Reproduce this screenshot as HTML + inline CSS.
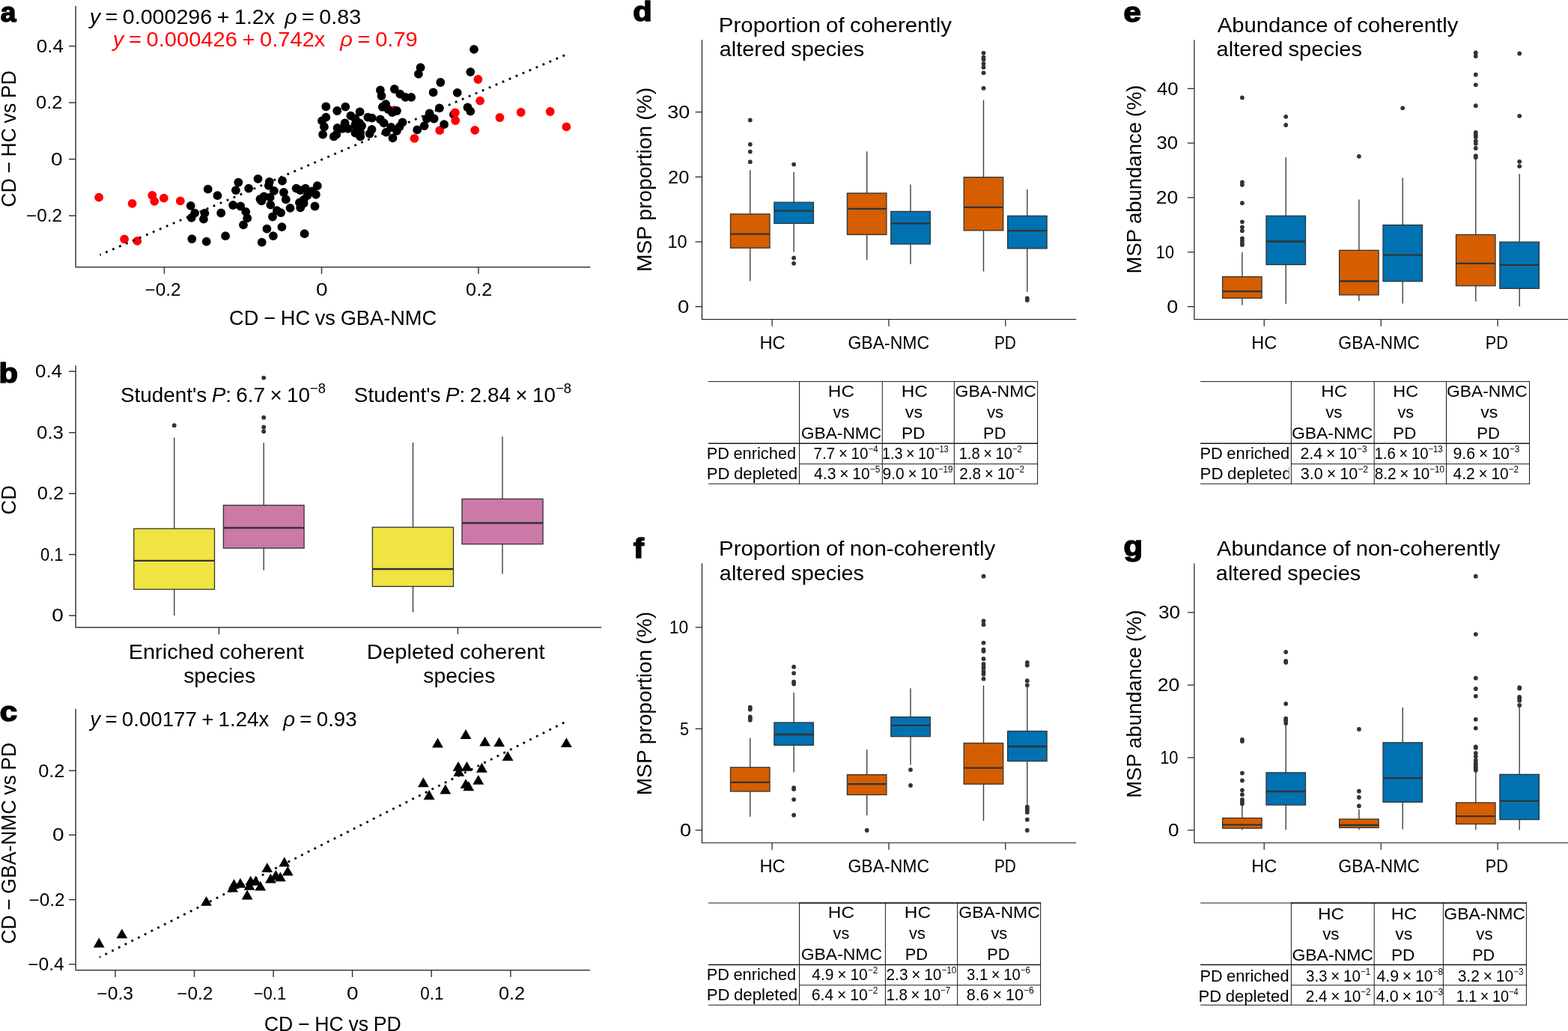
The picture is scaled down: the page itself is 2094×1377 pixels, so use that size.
<!DOCTYPE html>
<html lang="en"><head><meta charset="utf-8"><title>Figure</title>
<style>
html,body{margin:0;padding:0;background:#fff;}
body{width:2094px;height:1377px;overflow:hidden;}
svg{display:block;font-family:"Liberation Sans", sans-serif;}
text{white-space:pre;font-kerning:none;}
</style></head><body>
<svg width="2094" height="1377" viewBox="0 0 2094 1377">
<rect width="2094" height="1377" fill="#fff"/>
<g id="panel-a">
<text x="0.7" y="29.0" font-size="37" textLength="20.6" lengthAdjust="spacingAndGlyphs" font-weight="bold" stroke="#000" stroke-width="1.6" stroke-linejoin="round">a</text>
<path d="M101.1 8.0L101.1 356.8L788.2 356.8" fill="none" stroke="#3a3a3a" stroke-width="1.5" stroke-linejoin="round"/>
<line x1="92.0" y1="61.6" x2="101.1" y2="61.6" stroke="#3a3a3a" stroke-width="1.5"/>
<text x="48.89" y="69.80" font-size="23.2" textLength="36.07" lengthAdjust="spacingAndGlyphs">0.4</text>
<line x1="92.0" y1="137.1" x2="101.1" y2="137.1" stroke="#3a3a3a" stroke-width="1.5"/>
<text x="48.11" y="145.30" font-size="23.2" textLength="35.27" lengthAdjust="spacingAndGlyphs">0.2</text>
<line x1="92.0" y1="212.6" x2="101.1" y2="212.6" stroke="#3a3a3a" stroke-width="1.5"/>
<text x="68.01" y="220.80" font-size="23.2" textLength="15.59" lengthAdjust="spacingAndGlyphs">0</text>
<line x1="92.0" y1="288.1" x2="101.1" y2="288.1" stroke="#3a3a3a" stroke-width="1.5"/>
<text x="35.10" y="296.30" font-size="23.2" textLength="47.92" lengthAdjust="spacingAndGlyphs">−0.2</text>
<line x1="219.4" y1="356.8" x2="219.4" y2="365.8" stroke="#3a3a3a" stroke-width="1.5"/>
<text x="193.50" y="395.30" font-size="23.2" textLength="48.02" lengthAdjust="spacingAndGlyphs">−0.2</text>
<line x1="429.5" y1="356.8" x2="429.5" y2="365.8" stroke="#3a3a3a" stroke-width="1.5"/>
<text x="422.01" y="395.30" font-size="23.2" textLength="15.59" lengthAdjust="spacingAndGlyphs">0</text>
<line x1="639.0" y1="356.8" x2="639.0" y2="365.8" stroke="#3a3a3a" stroke-width="1.5"/>
<text x="622.12" y="395.30" font-size="23.2" textLength="35.05" lengthAdjust="spacingAndGlyphs">0.2</text>
<text x="306.12" y="433.50" font-size="27.8" textLength="277.02" lengthAdjust="spacingAndGlyphs" word-spacing="-0.83">CD − HC vs GBA-NMC</text>
<text x="21.20" y="276.65" font-size="27.8" textLength="182.43" lengthAdjust="spacingAndGlyphs" transform="rotate(-90 21.20 276.65)" word-spacing="-0.83">CD − HC vs PD</text>
<text x="119.72" y="31.80" font-size="27.8" textLength="362.34" lengthAdjust="spacingAndGlyphs" word-spacing="-1.39"><tspan font-style="italic">y</tspan> = 0.000296 + 1.2x  <tspan font-style="italic">ρ</tspan> = 0.83</text>
<text x="150.75" y="61.80" font-size="27.8" textLength="407.03" lengthAdjust="spacingAndGlyphs" word-spacing="-1.39" fill="#ff0000"><tspan font-style="italic">y</tspan> = 0.000426 + 0.742x   <tspan font-style="italic">ρ</tspan> = 0.79</text>
<circle cx="605.9" cy="152.8" r="5.9" fill="#000"/>
<circle cx="638.4" cy="106.0" r="5.9" fill="#ff0000"/>
<circle cx="641.1" cy="134.7" r="5.9" fill="#ff0000"/>
<circle cx="607.8" cy="150.3" r="5.9" fill="#ff0000"/>
<circle cx="608.2" cy="161.0" r="5.9" fill="#ff0000"/>
<circle cx="587.2" cy="174.2" r="5.9" fill="#ff0000"/>
<circle cx="553.4" cy="184.9" r="5.9" fill="#ff0000"/>
<circle cx="634.2" cy="173.8" r="5.9" fill="#ff0000"/>
<circle cx="667.4" cy="157.0" r="5.9" fill="#ff0000"/>
<circle cx="695.7" cy="150.0" r="5.9" fill="#ff0000"/>
<circle cx="734.7" cy="149.0" r="5.9" fill="#ff0000"/>
<circle cx="756.4" cy="169.4" r="5.9" fill="#ff0000"/>
<circle cx="526.5" cy="147.1" r="5.9" fill="#ff0000"/>
<circle cx="132.1" cy="263.7" r="5.9" fill="#ff0000"/>
<circle cx="176.6" cy="271.9" r="5.9" fill="#ff0000"/>
<circle cx="203.3" cy="261.0" r="5.9" fill="#ff0000"/>
<circle cx="206.2" cy="268.8" r="5.9" fill="#ff0000"/>
<circle cx="218.8" cy="264.6" r="5.9" fill="#ff0000"/>
<circle cx="240.8" cy="268.4" r="5.9" fill="#ff0000"/>
<circle cx="166.1" cy="319.4" r="5.9" fill="#ff0000"/>
<circle cx="183.3" cy="321.9" r="5.9" fill="#ff0000"/>
<circle cx="633.0" cy="65.9" r="5.9" fill="#000"/>
<circle cx="561.6" cy="90.2" r="5.9" fill="#000"/>
<circle cx="558.9" cy="98.9" r="5.9" fill="#000"/>
<circle cx="628.3" cy="96.1" r="5.9" fill="#000"/>
<circle cx="588.3" cy="110.0" r="5.9" fill="#000"/>
<circle cx="578.6" cy="123.4" r="5.9" fill="#000"/>
<circle cx="610.7" cy="123.8" r="5.9" fill="#000"/>
<circle cx="507.9" cy="120.3" r="5.9" fill="#000"/>
<circle cx="509.5" cy="128.0" r="5.9" fill="#000"/>
<circle cx="526.8" cy="119.0" r="5.9" fill="#000"/>
<circle cx="534.3" cy="125.7" r="5.9" fill="#000"/>
<circle cx="541.4" cy="129.9" r="5.9" fill="#000"/>
<circle cx="549.2" cy="129.9" r="5.9" fill="#000"/>
<circle cx="515.2" cy="139.1" r="5.9" fill="#000"/>
<circle cx="510.8" cy="142.9" r="5.9" fill="#000"/>
<circle cx="518.4" cy="146.1" r="5.9" fill="#000"/>
<circle cx="523.8" cy="150.0" r="5.9" fill="#000"/>
<circle cx="529.9" cy="148.0" r="5.9" fill="#000"/>
<circle cx="435.3" cy="142.3" r="5.9" fill="#000"/>
<circle cx="450.2" cy="148.0" r="5.9" fill="#000"/>
<circle cx="461.3" cy="142.7" r="5.9" fill="#000"/>
<circle cx="480.6" cy="149.4" r="5.9" fill="#000"/>
<circle cx="468.4" cy="154.7" r="5.9" fill="#000"/>
<circle cx="474.5" cy="158.5" r="5.9" fill="#000"/>
<circle cx="491.3" cy="156.6" r="5.9" fill="#000"/>
<circle cx="496.8" cy="157.6" r="5.9" fill="#000"/>
<circle cx="507.9" cy="159.5" r="5.9" fill="#000"/>
<circle cx="512.7" cy="164.3" r="5.9" fill="#000"/>
<circle cx="435.3" cy="156.6" r="5.9" fill="#000"/>
<circle cx="430.0" cy="161.4" r="5.9" fill="#000"/>
<circle cx="432.9" cy="169.4" r="5.9" fill="#000"/>
<circle cx="431.1" cy="179.6" r="5.9" fill="#000"/>
<circle cx="460.6" cy="164.3" r="5.9" fill="#000"/>
<circle cx="450.6" cy="171.0" r="5.9" fill="#000"/>
<circle cx="457.3" cy="171.9" r="5.9" fill="#000"/>
<circle cx="464.9" cy="171.9" r="5.9" fill="#000"/>
<circle cx="474.5" cy="166.2" r="5.9" fill="#000"/>
<circle cx="480.2" cy="164.3" r="5.9" fill="#000"/>
<circle cx="483.1" cy="168.1" r="5.9" fill="#000"/>
<circle cx="476.4" cy="171.9" r="5.9" fill="#000"/>
<circle cx="481.2" cy="176.7" r="5.9" fill="#000"/>
<circle cx="474.5" cy="177.7" r="5.9" fill="#000"/>
<circle cx="481.2" cy="182.4" r="5.9" fill="#000"/>
<circle cx="445.8" cy="182.4" r="5.9" fill="#000"/>
<circle cx="449.3" cy="179.6" r="5.9" fill="#000"/>
<circle cx="496.5" cy="172.9" r="5.9" fill="#000"/>
<circle cx="493.6" cy="178.6" r="5.9" fill="#000"/>
<circle cx="522.3" cy="170.0" r="5.9" fill="#000"/>
<circle cx="515.6" cy="176.7" r="5.9" fill="#000"/>
<circle cx="524.5" cy="184.3" r="5.9" fill="#000"/>
<circle cx="529.9" cy="174.8" r="5.9" fill="#000"/>
<circle cx="533.7" cy="169.1" r="5.9" fill="#000"/>
<circle cx="537.5" cy="163.3" r="5.9" fill="#000"/>
<circle cx="586.8" cy="144.4" r="5.9" fill="#000"/>
<circle cx="573.6" cy="151.3" r="5.9" fill="#000"/>
<circle cx="579.6" cy="158.5" r="5.9" fill="#000"/>
<circle cx="570.0" cy="158.5" r="5.9" fill="#000"/>
<circle cx="566.6" cy="168.1" r="5.9" fill="#000"/>
<circle cx="557.2" cy="173.4" r="5.9" fill="#000"/>
<circle cx="593.1" cy="166.2" r="5.9" fill="#000"/>
<circle cx="624.5" cy="143.3" r="5.9" fill="#000"/>
<circle cx="628.3" cy="148.6" r="5.9" fill="#000"/>
<circle cx="277.7" cy="252.6" r="5.9" fill="#000"/>
<circle cx="290.4" cy="261.2" r="5.9" fill="#000"/>
<circle cx="254.7" cy="274.9" r="5.9" fill="#000"/>
<circle cx="260.1" cy="284.7" r="5.9" fill="#000"/>
<circle cx="255.7" cy="290.8" r="5.9" fill="#000"/>
<circle cx="273.4" cy="284.7" r="5.9" fill="#000"/>
<circle cx="271.9" cy="292.7" r="5.9" fill="#000"/>
<circle cx="295.2" cy="284.5" r="5.9" fill="#000"/>
<circle cx="311.1" cy="274.0" r="5.9" fill="#000"/>
<circle cx="318.3" cy="243.6" r="5.9" fill="#000"/>
<circle cx="314.9" cy="254.1" r="5.9" fill="#000"/>
<circle cx="332.1" cy="251.6" r="5.9" fill="#000"/>
<circle cx="344.5" cy="238.8" r="5.9" fill="#000"/>
<circle cx="359.8" cy="243.0" r="5.9" fill="#000"/>
<circle cx="358.8" cy="247.8" r="5.9" fill="#000"/>
<circle cx="377.0" cy="241.5" r="5.9" fill="#000"/>
<circle cx="365.9" cy="254.9" r="5.9" fill="#000"/>
<circle cx="378.9" cy="257.0" r="5.9" fill="#000"/>
<circle cx="352.5" cy="262.5" r="5.9" fill="#000"/>
<circle cx="347.4" cy="266.0" r="5.9" fill="#000"/>
<circle cx="349.3" cy="268.3" r="5.9" fill="#000"/>
<circle cx="360.7" cy="263.7" r="5.9" fill="#000"/>
<circle cx="381.8" cy="266.3" r="5.9" fill="#000"/>
<circle cx="361.3" cy="273.6" r="5.9" fill="#000"/>
<circle cx="321.2" cy="275.5" r="5.9" fill="#000"/>
<circle cx="328.3" cy="282.8" r="5.9" fill="#000"/>
<circle cx="330.2" cy="291.4" r="5.9" fill="#000"/>
<circle cx="325.0" cy="300.3" r="5.9" fill="#000"/>
<circle cx="369.9" cy="281.2" r="5.9" fill="#000"/>
<circle cx="375.1" cy="284.1" r="5.9" fill="#000"/>
<circle cx="364.0" cy="289.5" r="5.9" fill="#000"/>
<circle cx="387.5" cy="277.8" r="5.9" fill="#000"/>
<circle cx="395.7" cy="251.6" r="5.9" fill="#000"/>
<circle cx="400.9" cy="254.1" r="5.9" fill="#000"/>
<circle cx="407.9" cy="251.6" r="5.9" fill="#000"/>
<circle cx="423.8" cy="248.2" r="5.9" fill="#000"/>
<circle cx="417.1" cy="255.5" r="5.9" fill="#000"/>
<circle cx="421.9" cy="259.8" r="5.9" fill="#000"/>
<circle cx="410.4" cy="261.2" r="5.9" fill="#000"/>
<circle cx="405.6" cy="266.9" r="5.9" fill="#000"/>
<circle cx="399.9" cy="270.7" r="5.9" fill="#000"/>
<circle cx="401.2" cy="277.4" r="5.9" fill="#000"/>
<circle cx="405.6" cy="271.7" r="5.9" fill="#000"/>
<circle cx="420.5" cy="275.5" r="5.9" fill="#000"/>
<circle cx="356.4" cy="305.7" r="5.9" fill="#000"/>
<circle cx="376.4" cy="303.2" r="5.9" fill="#000"/>
<circle cx="364.9" cy="315.1" r="5.9" fill="#000"/>
<circle cx="406.6" cy="312.2" r="5.9" fill="#000"/>
<circle cx="349.7" cy="323.6" r="5.9" fill="#000"/>
<circle cx="301.1" cy="315.2" r="5.9" fill="#000"/>
<circle cx="256.3" cy="319.1" r="5.9" fill="#000"/>
<circle cx="275.7" cy="322.7" r="5.9" fill="#000"/>
<line x1="133.39" y1="340.40" x2="755.50" y2="73.20" stroke="#000" stroke-width="2.8" stroke-dasharray="2.8 6.97" stroke-dashoffset="1.4"/>
</g>
<g id="panel-b">
<text x="-1.5" y="510.7" font-size="37" textLength="25.5" lengthAdjust="spacingAndGlyphs" font-weight="bold" stroke="#000" stroke-width="1.6" stroke-linejoin="round">b</text>
<path d="M101.1 488.3L101.1 838.0L803.2 838.0" fill="none" stroke="#3a3a3a" stroke-width="1.5" stroke-linejoin="round"/>
<line x1="92.0" y1="496.0" x2="101.1" y2="496.0" stroke="#3a3a3a" stroke-width="1.5"/>
<text x="46.99" y="504.20" font-size="23.2" textLength="36.07" lengthAdjust="spacingAndGlyphs">0.4</text>
<line x1="92.0" y1="577.8" x2="101.1" y2="577.8" stroke="#3a3a3a" stroke-width="1.5"/>
<text x="49.09" y="586.00" font-size="23.2" textLength="35.84" lengthAdjust="spacingAndGlyphs">0.3</text>
<line x1="92.0" y1="659.2" x2="101.1" y2="659.2" stroke="#3a3a3a" stroke-width="1.5"/>
<text x="49.81" y="667.40" font-size="23.2" textLength="35.27" lengthAdjust="spacingAndGlyphs">0.2</text>
<line x1="92.0" y1="740.6" x2="101.1" y2="740.6" stroke="#3a3a3a" stroke-width="1.5"/>
<text x="53.94" y="748.80" font-size="23.2" textLength="30.53" lengthAdjust="spacingAndGlyphs">0.1</text>
<line x1="92.0" y1="822.2" x2="101.1" y2="822.2" stroke="#3a3a3a" stroke-width="1.5"/>
<text x="69.31" y="830.40" font-size="23.2" textLength="15.59" lengthAdjust="spacingAndGlyphs">0</text>
<line x1="292.4" y1="838.0" x2="292.4" y2="847.2" stroke="#3a3a3a" stroke-width="1.5"/>
<line x1="611.4" y1="838.0" x2="611.4" y2="847.2" stroke="#3a3a3a" stroke-width="1.5"/>
<text x="21.20" y="687.48" font-size="27.8" textLength="39.28" lengthAdjust="spacingAndGlyphs" transform="rotate(-90 21.20 687.48)">CD</text>
<line x1="232.7" y1="584.6" x2="232.7" y2="706.1" stroke="#383838" stroke-width="1.35" />
<line x1="232.7" y1="787.1" x2="232.7" y2="821.9" stroke="#383838" stroke-width="1.35" />
<rect x="178.8" y="706.1" width="107.7" height="81.0" fill="#F0E442" stroke="#333333" stroke-width="1.3"/>
<line x1="178.8" y1="748.9" x2="286.5" y2="748.9" stroke="#333333" stroke-width="2.3" />
<circle cx="232.7" cy="568.2" r="2.9" fill="#333"/>
<line x1="352.2" y1="591.5" x2="352.2" y2="674.8" stroke="#383838" stroke-width="1.35" />
<line x1="352.2" y1="732.1" x2="352.2" y2="761.5" stroke="#383838" stroke-width="1.35" />
<rect x="298.4" y="674.8" width="107.7" height="57.3" fill="#CC79A7" stroke="#333333" stroke-width="1.3"/>
<line x1="298.4" y1="705.0" x2="406.1" y2="705.0" stroke="#333333" stroke-width="2.3" />
<circle cx="352.2" cy="504.6" r="2.9" fill="#333"/>
<circle cx="352.2" cy="557.7" r="2.9" fill="#333"/>
<circle cx="352.2" cy="570.5" r="2.9" fill="#333"/>
<circle cx="352.2" cy="576.2" r="2.9" fill="#333"/>
<line x1="551.5" y1="591.1" x2="551.5" y2="704.2" stroke="#383838" stroke-width="1.35" />
<line x1="551.5" y1="783.3" x2="551.5" y2="817.7" stroke="#383838" stroke-width="1.35" />
<rect x="497.4" y="704.2" width="108.1" height="79.1" fill="#F0E442" stroke="#333333" stroke-width="1.3"/>
<line x1="497.4" y1="760.0" x2="605.5" y2="760.0" stroke="#333333" stroke-width="2.3" />
<line x1="671.0" y1="583.1" x2="671.0" y2="666.4" stroke="#383838" stroke-width="1.35" />
<line x1="671.0" y1="726.7" x2="671.0" y2="766.5" stroke="#383838" stroke-width="1.35" />
<rect x="617.0" y="666.4" width="108.1" height="60.3" fill="#CC79A7" stroke="#333333" stroke-width="1.3"/>
<line x1="617.0" y1="698.5" x2="725.1" y2="698.5" stroke="#333333" stroke-width="2.3" />
<text x="160.93" y="537.00" font-size="27.8" textLength="274.07" lengthAdjust="spacingAndGlyphs" word-spacing="-1.39">Student's <tspan font-style="italic">P</tspan>: 6.7 × 10<tspan dy="-11.9" font-size="18.3">−8</tspan></text>
<text x="472.83" y="537.00" font-size="27.8" textLength="290.27" lengthAdjust="spacingAndGlyphs" word-spacing="-1.39">Student's <tspan font-style="italic">P</tspan>: 2.84 × 10<tspan dy="-11.9" font-size="18.3">−8</tspan></text>
<text x="171.73" y="880.00" font-size="27.8" textLength="233.99" lengthAdjust="spacingAndGlyphs" word-spacing="-0.83">Enriched coherent</text>
<text x="245.21" y="911.80" font-size="27.8" textLength="96.01" lengthAdjust="spacingAndGlyphs">species</text>
<text x="489.80" y="880.00" font-size="27.8" textLength="237.91" lengthAdjust="spacingAndGlyphs" word-spacing="-0.83">Depleted coherent</text>
<text x="565.21" y="911.80" font-size="27.8" textLength="96.11" lengthAdjust="spacingAndGlyphs">species</text>
</g>
<g id="panel-c">
<text x="-0.3" y="963.0" font-size="37" textLength="23.3" lengthAdjust="spacingAndGlyphs" font-weight="bold" stroke="#000" stroke-width="1.6" stroke-linejoin="round">c</text>
<path d="M101.1 946.7L101.1 1295.7L788.1 1295.7" fill="none" stroke="#3a3a3a" stroke-width="1.5" stroke-linejoin="round"/>
<line x1="92.0" y1="1029.3" x2="101.1" y2="1029.3" stroke="#3a3a3a" stroke-width="1.5"/>
<text x="51.21" y="1037.50" font-size="23.2" textLength="35.27" lengthAdjust="spacingAndGlyphs">0.2</text>
<line x1="92.0" y1="1115.2" x2="101.1" y2="1115.2" stroke="#3a3a3a" stroke-width="1.5"/>
<text x="70.01" y="1123.40" font-size="23.2" textLength="15.59" lengthAdjust="spacingAndGlyphs">0</text>
<line x1="92.0" y1="1201.6" x2="101.1" y2="1201.6" stroke="#3a3a3a" stroke-width="1.5"/>
<text x="38.50" y="1209.80" font-size="23.2" textLength="47.92" lengthAdjust="spacingAndGlyphs">−0.2</text>
<line x1="92.0" y1="1287.9" x2="101.1" y2="1287.9" stroke="#3a3a3a" stroke-width="1.5"/>
<text x="37.19" y="1296.10" font-size="23.2" textLength="48.53" lengthAdjust="spacingAndGlyphs">−0.4</text>
<line x1="154.0" y1="1295.7" x2="154.0" y2="1305.0" stroke="#3a3a3a" stroke-width="1.5"/>
<text x="129.38" y="1335.00" font-size="23.2" textLength="48.70" lengthAdjust="spacingAndGlyphs">−0.3</text>
<line x1="259.5" y1="1295.7" x2="259.5" y2="1305.0" stroke="#3a3a3a" stroke-width="1.5"/>
<text x="236.30" y="1335.00" font-size="23.2" textLength="48.02" lengthAdjust="spacingAndGlyphs">−0.2</text>
<line x1="365.1" y1="1295.7" x2="365.1" y2="1305.0" stroke="#3a3a3a" stroke-width="1.5"/>
<text x="338.71" y="1335.00" font-size="23.2" textLength="43.46" lengthAdjust="spacingAndGlyphs">−0.1</text>
<line x1="470.6" y1="1295.7" x2="470.6" y2="1305.0" stroke="#3a3a3a" stroke-width="1.5"/>
<text x="463.01" y="1335.00" font-size="23.2" textLength="15.59" lengthAdjust="spacingAndGlyphs">0</text>
<line x1="576.2" y1="1295.7" x2="576.2" y2="1305.0" stroke="#3a3a3a" stroke-width="1.5"/>
<text x="561.22" y="1335.00" font-size="23.2" textLength="31.17" lengthAdjust="spacingAndGlyphs">0.1</text>
<line x1="681.9" y1="1295.7" x2="681.9" y2="1305.0" stroke="#3a3a3a" stroke-width="1.5"/>
<text x="665.91" y="1335.00" font-size="23.2" textLength="35.27" lengthAdjust="spacingAndGlyphs">0.2</text>
<text x="352.74" y="1376.60" font-size="27.8" textLength="183.14" lengthAdjust="spacingAndGlyphs" word-spacing="-0.83">CD − HC vs PD</text>
<text x="21.30" y="1260.65" font-size="27.8" textLength="268.82" lengthAdjust="spacingAndGlyphs" transform="rotate(-90 21.30 1260.65)" word-spacing="-0.83">CD − GBA-NMC vs PD</text>
<text x="120.27" y="970.20" font-size="27.8" textLength="356.35" lengthAdjust="spacingAndGlyphs" word-spacing="-1.39"><tspan font-style="italic">y</tspan> = 0.00177 + 1.24x   <tspan font-style="italic">ρ</tspan> = 0.93</text>
<path d="M124.8 1265.5L139.6 1265.5L132.2 1252.6Z" fill="#000"/>
<path d="M155.4 1253.3L170.2 1253.3L162.8 1240.4Z" fill="#000"/>
<path d="M268.1 1209.8L282.9 1209.8L275.5 1196.9Z" fill="#000"/>
<path d="M303.2 1191.4L318.0 1191.4L310.6 1178.5Z" fill="#000"/>
<path d="M305.1 1186.8L319.9 1186.8L312.5 1173.9Z" fill="#000"/>
<path d="M313.5 1185.7L328.3 1185.7L320.9 1172.8Z" fill="#000"/>
<path d="M322.7 1201.4L337.5 1201.4L330.1 1188.5Z" fill="#000"/>
<path d="M327.3 1182.6L342.1 1182.6L334.7 1169.7Z" fill="#000"/>
<path d="M325.7 1188.7L340.5 1188.7L333.1 1175.8Z" fill="#000"/>
<path d="M334.1 1182.6L348.9 1182.6L341.5 1169.7Z" fill="#000"/>
<path d="M340.3 1189.5L355.1 1189.5L347.7 1176.6Z" fill="#000"/>
<path d="M349.4 1165.1L364.2 1165.1L356.8 1152.2Z" fill="#000"/>
<path d="M354.0 1179.6L368.8 1179.6L361.4 1166.7Z" fill="#000"/>
<path d="M360.9 1175.0L375.7 1175.0L368.3 1162.1Z" fill="#000"/>
<path d="M367.0 1177.3L381.8 1177.3L374.4 1164.4Z" fill="#000"/>
<path d="M372.4 1157.4L387.2 1157.4L379.8 1144.5Z" fill="#000"/>
<path d="M376.9 1169.6L391.7 1169.6L384.3 1156.7Z" fill="#000"/>
<path d="M558.0 1051.2L572.8 1051.2L565.4 1038.3Z" fill="#000"/>
<path d="M565.7 1068.0L580.5 1068.0L573.1 1055.1Z" fill="#000"/>
<path d="M577.1 998.5L591.9 998.5L584.5 985.6Z" fill="#000"/>
<path d="M587.4 1060.4L602.2 1060.4L594.8 1047.5Z" fill="#000"/>
<path d="M604.6 1029.8L619.4 1029.8L612.0 1016.9Z" fill="#000"/>
<path d="M605.4 1036.7L620.2 1036.7L612.8 1023.8Z" fill="#000"/>
<path d="M614.6 987.0L629.4 987.0L622.0 974.1Z" fill="#000"/>
<path d="M616.1 1029.8L630.9 1029.8L623.5 1016.9Z" fill="#000"/>
<path d="M614.6 1053.1L629.4 1053.1L622.0 1040.2Z" fill="#000"/>
<path d="M618.4 1056.2L633.2 1056.2L625.8 1043.3Z" fill="#000"/>
<path d="M631.4 1047.8L646.2 1047.8L638.8 1034.9Z" fill="#000"/>
<path d="M636.0 1031.7L650.8 1031.7L643.4 1018.8Z" fill="#000"/>
<path d="M640.2 996.6L655.0 996.6L647.6 983.7Z" fill="#000"/>
<path d="M659.3 997.3L674.1 997.3L666.7 984.4Z" fill="#000"/>
<path d="M670.7 1016.1L685.5 1016.1L678.1 1003.2Z" fill="#000"/>
<path d="M749.0 998.1L763.8 998.1L756.4 985.2Z" fill="#000"/>
<line x1="133.05" y1="1278.47" x2="754.50" y2="964.40" stroke="#000" stroke-width="2.8" stroke-dasharray="2.8 6.97" stroke-dashoffset="1.4"/>
</g>
<g id="panel-d">
<text x="845.2" y="27.8" font-size="37" textLength="25.5" lengthAdjust="spacingAndGlyphs" font-weight="bold" stroke="#000" stroke-width="1.6" stroke-linejoin="round">d</text>
<path d="M937.48 53.29L937.48 426.49L1437.20 426.49" fill="none" stroke="#111" stroke-width="1.15" stroke-linejoin="round"/>
<line x1="928.58" y1="149.67" x2="937.48" y2="149.67" stroke="#111" stroke-width="1.15"/>
<text x="891.37" y="157.87" font-size="23.2" textLength="29.98" lengthAdjust="spacingAndGlyphs">30</text>
<line x1="928.58" y1="236.30" x2="937.48" y2="236.30" stroke="#111" stroke-width="1.15"/>
<text x="892.02" y="244.50" font-size="23.2" textLength="28.38" lengthAdjust="spacingAndGlyphs">20</text>
<line x1="928.58" y1="322.94" x2="937.48" y2="322.94" stroke="#111" stroke-width="1.15"/>
<text x="891.50" y="331.14" font-size="23.2" textLength="26.22" lengthAdjust="spacingAndGlyphs">10</text>
<line x1="928.58" y1="409.58" x2="937.48" y2="409.58" stroke="#111" stroke-width="1.15"/>
<text x="904.92" y="417.78" font-size="23.2" textLength="15.36" lengthAdjust="spacingAndGlyphs">0</text>
<line x1="1031.10" y1="426.49" x2="1031.10" y2="435.69" stroke="#111" stroke-width="1.15"/>
<text x="1014.45" y="465.79" font-size="23.2" textLength="34.36" lengthAdjust="spacingAndGlyphs">HC</text>
<line x1="1187.00" y1="426.49" x2="1187.00" y2="435.69" stroke="#111" stroke-width="1.15"/>
<text x="1132.44" y="465.79" font-size="23.2" textLength="108.63" lengthAdjust="spacingAndGlyphs">GBA-NMC</text>
<line x1="1342.80" y1="426.49" x2="1342.80" y2="435.69" stroke="#111" stroke-width="1.15"/>
<text x="1327.89" y="465.79" font-size="23.2" textLength="28.90" lengthAdjust="spacingAndGlyphs">PD</text>
<text x="870.00" y="362.91" font-size="27.8" textLength="245.96" lengthAdjust="spacingAndGlyphs" transform="rotate(-90 870.00 362.91)" word-spacing="-0.83">MSP proportion (%)</text>
<text x="959.88" y="42.80" font-size="27.8" textLength="311.07" lengthAdjust="spacingAndGlyphs" word-spacing="-0.83">Proportion of coherently</text>
<text x="960.77" y="74.50" font-size="27.8" textLength="193.47" lengthAdjust="spacingAndGlyphs" word-spacing="-0.83">altered species</text>
<line x1="1001.8" y1="227.3" x2="1001.8" y2="285.9" stroke="#383838" stroke-width="1.35" />
<line x1="1001.8" y1="331.2" x2="1001.8" y2="375.5" stroke="#383838" stroke-width="1.35" />
<rect x="975.5" y="285.9" width="52.5" height="45.3" fill="#D55E00" stroke="#333333" stroke-width="1.3"/>
<line x1="975.5" y1="312.7" x2="1028.0" y2="312.7" stroke="#333333" stroke-width="2.3" />
<circle cx="1001.8" cy="160.4" r="2.9" fill="#333"/>
<circle cx="1001.8" cy="192.8" r="2.9" fill="#333"/>
<circle cx="1001.8" cy="202.6" r="2.9" fill="#333"/>
<circle cx="1001.8" cy="216.2" r="2.9" fill="#333"/>
<line x1="1060.1" y1="230.1" x2="1060.1" y2="270.2" stroke="#383838" stroke-width="1.35" />
<line x1="1060.1" y1="298.4" x2="1060.1" y2="336.4" stroke="#383838" stroke-width="1.35" />
<rect x="1033.9" y="270.2" width="52.5" height="28.2" fill="#0072B2" stroke="#333333" stroke-width="1.3"/>
<line x1="1033.9" y1="281.7" x2="1086.4" y2="281.7" stroke="#333333" stroke-width="2.3" />
<circle cx="1060.1" cy="219.6" r="2.9" fill="#333"/>
<circle cx="1060.1" cy="344.5" r="2.9" fill="#333"/>
<circle cx="1060.1" cy="351.8" r="2.9" fill="#333"/>
<line x1="1157.7" y1="202.2" x2="1157.7" y2="258.0" stroke="#383838" stroke-width="1.35" />
<line x1="1157.7" y1="313.4" x2="1157.7" y2="346.9" stroke="#383838" stroke-width="1.35" />
<rect x="1131.4" y="258.0" width="52.5" height="55.4" fill="#D55E00" stroke="#333333" stroke-width="1.3"/>
<line x1="1131.4" y1="278.9" x2="1183.9" y2="278.9" stroke="#333333" stroke-width="2.3" />
<line x1="1216.0" y1="246.5" x2="1216.0" y2="282.4" stroke="#383838" stroke-width="1.35" />
<line x1="1216.0" y1="326.0" x2="1216.0" y2="352.8" stroke="#383838" stroke-width="1.35" />
<rect x="1189.8" y="282.4" width="52.5" height="43.6" fill="#0072B2" stroke="#333333" stroke-width="1.3"/>
<line x1="1189.8" y1="298.4" x2="1242.3" y2="298.4" stroke="#333333" stroke-width="2.3" />
<line x1="1313.5" y1="133.9" x2="1313.5" y2="236.7" stroke="#383838" stroke-width="1.35" />
<line x1="1313.5" y1="307.8" x2="1313.5" y2="362.6" stroke="#383838" stroke-width="1.35" />
<rect x="1287.2" y="236.7" width="52.5" height="71.1" fill="#D55E00" stroke="#333333" stroke-width="1.3"/>
<line x1="1287.2" y1="276.8" x2="1339.7" y2="276.8" stroke="#333333" stroke-width="2.3" />
<circle cx="1313.5" cy="70.8" r="2.9" fill="#333"/>
<circle cx="1313.5" cy="76.7" r="2.9" fill="#333"/>
<circle cx="1313.5" cy="79.5" r="2.9" fill="#333"/>
<circle cx="1313.5" cy="85.1" r="2.9" fill="#333"/>
<circle cx="1313.5" cy="89.9" r="2.9" fill="#333"/>
<circle cx="1313.5" cy="97.3" r="2.9" fill="#333"/>
<circle cx="1313.5" cy="117.8" r="2.9" fill="#333"/>
<line x1="1371.8" y1="253.1" x2="1371.8" y2="288.3" stroke="#383838" stroke-width="1.35" />
<line x1="1371.8" y1="331.9" x2="1371.8" y2="389.8" stroke="#383838" stroke-width="1.35" />
<rect x="1345.6" y="288.3" width="52.5" height="43.6" fill="#0072B2" stroke="#333333" stroke-width="1.3"/>
<line x1="1345.6" y1="308.2" x2="1398.1" y2="308.2" stroke="#333333" stroke-width="2.3" />
<circle cx="1371.8" cy="398.5" r="2.9" fill="#333"/>
<circle cx="1371.8" cy="400.9" r="2.9" fill="#333"/>
</g>
<g id="table-d">
<line x1="946.0" y1="509.6" x2="1386.1" y2="509.6" stroke="#1a1a1a" stroke-width="1.0" />
<line x1="946.0" y1="592.2" x2="1386.1" y2="592.2" stroke="#1a1a1a" stroke-width="1.5" />
<line x1="1067.5" y1="619.7" x2="1386.1" y2="619.7" stroke="#1a1a1a" stroke-width="1.0" />
<line x1="946.0" y1="646.2" x2="1386.1" y2="646.2" stroke="#1a1a1a" stroke-width="1.0" />
<line x1="1067.5" y1="509.1" x2="1067.5" y2="646.7" stroke="#1a1a1a" stroke-width="1.0" />
<line x1="1178.3" y1="509.1" x2="1178.3" y2="646.7" stroke="#1a1a1a" stroke-width="1.0" />
<line x1="1274.3" y1="509.1" x2="1274.3" y2="646.7" stroke="#1a1a1a" stroke-width="1.0" />
<line x1="1385.6" y1="509.1" x2="1385.6" y2="646.7" stroke="#1a1a1a" stroke-width="1.0" />
<text x="1105.89" y="529.80" font-size="22.9" textLength="35.16" lengthAdjust="spacingAndGlyphs">HC</text>
<text x="1112.59" y="557.97" font-size="22.9" textLength="21.63" lengthAdjust="spacingAndGlyphs">vs</text>
<text x="1069.73" y="585.91" font-size="22.9" textLength="107.55" lengthAdjust="spacingAndGlyphs">GBA-NMC</text>
<text x="1203.79" y="529.80" font-size="22.9" textLength="35.16" lengthAdjust="spacingAndGlyphs">HC</text>
<text x="1208.81" y="557.97" font-size="22.9" textLength="23.37" lengthAdjust="spacingAndGlyphs">vs</text>
<text x="1203.92" y="585.91" font-size="22.9" textLength="31.61" lengthAdjust="spacingAndGlyphs">PD</text>
<text x="1275.55" y="529.80" font-size="22.9" textLength="108.28" lengthAdjust="spacingAndGlyphs">GBA-NMC</text>
<text x="1317.94" y="557.97" font-size="22.9" textLength="22.37" lengthAdjust="spacingAndGlyphs">vs</text>
<text x="1313.12" y="585.91" font-size="22.9" textLength="30.29" lengthAdjust="spacingAndGlyphs">PD</text>
<text x="943.73" y="612.59" font-size="22.0" textLength="119.48" lengthAdjust="spacingAndGlyphs" word-spacing="-0.66">PD enriched</text>
<text x="943.70" y="640.05" font-size="22.0" textLength="121.44" lengthAdjust="spacingAndGlyphs" word-spacing="-0.66">PD depleted</text>
<text x="1086.54" y="612.59" font-size="22.0" textLength="86.16" lengthAdjust="spacingAndGlyphs" word-spacing="-1.10">7.7 × 10<tspan dy="-8.7" font-size="12.3">−4</tspan></text>
<text x="1178.02" y="612.59" font-size="22.0" textLength="88.67" lengthAdjust="spacingAndGlyphs" word-spacing="-1.10">1.3 × 10<tspan dy="-8.7" font-size="12.3">−13</tspan></text>
<text x="1280.67" y="612.59" font-size="22.0" textLength="84.00" lengthAdjust="spacingAndGlyphs" word-spacing="-1.10">1.8 × 10<tspan dy="-8.7" font-size="12.3">−2</tspan></text>
<text x="1087.11" y="640.05" font-size="22.0" textLength="88.13" lengthAdjust="spacingAndGlyphs" word-spacing="-1.10">4.3 × 10<tspan dy="-8.7" font-size="12.3">−5</tspan></text>
<text x="1178.54" y="640.05" font-size="22.0" textLength="93.94" lengthAdjust="spacingAndGlyphs" word-spacing="-1.10">9.0 × 10<tspan dy="-8.7" font-size="12.3">−19</tspan></text>
<text x="1281.15" y="640.05" font-size="22.0" textLength="86.87" lengthAdjust="spacingAndGlyphs" word-spacing="-1.10">2.8 × 10<tspan dy="-8.7" font-size="12.3">−2</tspan></text>
</g>
<g id="panel-e">
<text x="1500.5" y="29.0" font-size="37" textLength="23.3" lengthAdjust="spacingAndGlyphs" font-weight="bold" stroke="#000" stroke-width="1.6" stroke-linejoin="round">e</text>
<path d="M1594.90 53.29L1594.90 426.49L2094.00 426.49" fill="none" stroke="#111" stroke-width="1.15" stroke-linejoin="round"/>
<line x1="1586.00" y1="118.30" x2="1594.90" y2="118.30" stroke="#111" stroke-width="1.15"/>
<text x="1544.91" y="126.50" font-size="23.2" textLength="28.70" lengthAdjust="spacingAndGlyphs">40</text>
<line x1="1586.00" y1="191.10" x2="1594.90" y2="191.10" stroke="#111" stroke-width="1.15"/>
<text x="1544.52" y="199.30" font-size="23.2" textLength="28.58" lengthAdjust="spacingAndGlyphs">30</text>
<line x1="1586.00" y1="263.90" x2="1594.90" y2="263.90" stroke="#111" stroke-width="1.15"/>
<text x="1543.67" y="272.10" font-size="23.2" textLength="29.47" lengthAdjust="spacingAndGlyphs">20</text>
<line x1="1586.00" y1="336.80" x2="1594.90" y2="336.80" stroke="#111" stroke-width="1.15"/>
<text x="1543.85" y="345.00" font-size="23.2" textLength="24.10" lengthAdjust="spacingAndGlyphs">10</text>
<line x1="1586.00" y1="409.58" x2="1594.90" y2="409.58" stroke="#111" stroke-width="1.15"/>
<text x="1558.15" y="417.78" font-size="23.2" textLength="15.01" lengthAdjust="spacingAndGlyphs">0</text>
<line x1="1688.20" y1="426.49" x2="1688.20" y2="435.69" stroke="#111" stroke-width="1.15"/>
<text x="1671.37" y="465.79" font-size="23.2" textLength="33.92" lengthAdjust="spacingAndGlyphs">HC</text>
<line x1="1844.20" y1="426.49" x2="1844.20" y2="435.69" stroke="#111" stroke-width="1.15"/>
<text x="1787.34" y="465.79" font-size="23.2" textLength="108.63" lengthAdjust="spacingAndGlyphs">GBA-NMC</text>
<line x1="2000.10" y1="426.49" x2="2000.10" y2="435.69" stroke="#111" stroke-width="1.15"/>
<text x="1983.82" y="465.79" font-size="23.2" textLength="30.12" lengthAdjust="spacingAndGlyphs">PD</text>
<text x="1524.40" y="365.45" font-size="27.8" textLength="251.96" lengthAdjust="spacingAndGlyphs" transform="rotate(-90 1524.40 365.45)" word-spacing="-0.83">MSP abundance (%)</text>
<text x="1625.74" y="42.80" font-size="27.8" textLength="321.61" lengthAdjust="spacingAndGlyphs" word-spacing="-0.83">Abundance of coherently</text>
<text x="1624.57" y="74.50" font-size="27.8" textLength="194.48" lengthAdjust="spacingAndGlyphs" word-spacing="-0.83">altered species</text>
<line x1="1658.9" y1="337.1" x2="1658.9" y2="369.6" stroke="#383838" stroke-width="1.35" />
<line x1="1658.9" y1="398.1" x2="1658.9" y2="407.6" stroke="#383838" stroke-width="1.35" />
<rect x="1632.6" y="369.6" width="52.5" height="28.6" fill="#D55E00" stroke="#333333" stroke-width="1.3"/>
<line x1="1632.6" y1="389.1" x2="1685.1" y2="389.1" stroke="#333333" stroke-width="2.3" />
<circle cx="1658.9" cy="130.4" r="2.9" fill="#333"/>
<circle cx="1658.9" cy="243.3" r="2.9" fill="#333"/>
<circle cx="1658.9" cy="246.8" r="2.9" fill="#333"/>
<circle cx="1658.9" cy="271.2" r="2.9" fill="#333"/>
<circle cx="1658.9" cy="296.3" r="2.9" fill="#333"/>
<circle cx="1658.9" cy="303.3" r="2.9" fill="#333"/>
<circle cx="1658.9" cy="308.2" r="2.9" fill="#333"/>
<circle cx="1658.9" cy="318.3" r="2.9" fill="#333"/>
<circle cx="1658.9" cy="321.4" r="2.9" fill="#333"/>
<circle cx="1658.9" cy="324.9" r="2.9" fill="#333"/>
<circle cx="1658.9" cy="327.0" r="2.9" fill="#333"/>
<line x1="1717.2" y1="210.2" x2="1717.2" y2="288.3" stroke="#383838" stroke-width="1.35" />
<line x1="1717.2" y1="353.5" x2="1717.2" y2="405.8" stroke="#383838" stroke-width="1.35" />
<rect x="1691.0" y="288.3" width="52.5" height="65.2" fill="#0072B2" stroke="#333333" stroke-width="1.3"/>
<line x1="1691.0" y1="322.5" x2="1743.5" y2="322.5" stroke="#333333" stroke-width="2.3" />
<circle cx="1717.2" cy="155.8" r="2.9" fill="#333"/>
<circle cx="1717.2" cy="167.0" r="2.9" fill="#333"/>
<line x1="1814.9" y1="266.4" x2="1814.9" y2="334.3" stroke="#383838" stroke-width="1.35" />
<line x1="1814.9" y1="394.0" x2="1814.9" y2="402.0" stroke="#383838" stroke-width="1.35" />
<rect x="1788.6" y="334.3" width="52.5" height="59.6" fill="#D55E00" stroke="#333333" stroke-width="1.3"/>
<line x1="1788.6" y1="375.5" x2="1841.1" y2="375.5" stroke="#333333" stroke-width="2.3" />
<circle cx="1814.9" cy="208.8" r="2.9" fill="#333"/>
<line x1="1873.2" y1="237.4" x2="1873.2" y2="300.5" stroke="#383838" stroke-width="1.35" />
<line x1="1873.2" y1="375.8" x2="1873.2" y2="405.5" stroke="#383838" stroke-width="1.35" />
<rect x="1847.0" y="300.5" width="52.5" height="75.3" fill="#0072B2" stroke="#333333" stroke-width="1.3"/>
<line x1="1847.0" y1="340.6" x2="1899.5" y2="340.6" stroke="#333333" stroke-width="2.3" />
<circle cx="1873.2" cy="144.3" r="2.9" fill="#333"/>
<line x1="1970.8" y1="211.3" x2="1970.8" y2="313.4" stroke="#383838" stroke-width="1.35" />
<line x1="1970.8" y1="381.8" x2="1970.8" y2="402.7" stroke="#383838" stroke-width="1.35" />
<rect x="1944.5" y="313.4" width="52.5" height="68.3" fill="#D55E00" stroke="#333333" stroke-width="1.3"/>
<line x1="1944.5" y1="351.8" x2="1997.0" y2="351.8" stroke="#333333" stroke-width="2.3" />
<circle cx="1970.8" cy="70.4" r="2.9" fill="#333"/>
<circle cx="1970.8" cy="75.0" r="2.9" fill="#333"/>
<circle cx="1970.8" cy="99.7" r="2.9" fill="#333"/>
<circle cx="1970.8" cy="113.3" r="2.9" fill="#333"/>
<circle cx="1970.8" cy="141.2" r="2.9" fill="#333"/>
<circle cx="1970.8" cy="176.8" r="2.9" fill="#333"/>
<circle cx="1970.8" cy="180.2" r="2.9" fill="#333"/>
<circle cx="1970.8" cy="183.0" r="2.9" fill="#333"/>
<circle cx="1970.8" cy="188.3" r="2.9" fill="#333"/>
<circle cx="1970.8" cy="191.8" r="2.9" fill="#333"/>
<circle cx="1970.8" cy="198.0" r="2.9" fill="#333"/>
<circle cx="1970.8" cy="208.1" r="2.9" fill="#333"/>
<circle cx="1970.8" cy="210.2" r="2.9" fill="#333"/>
<line x1="2029.2" y1="232.2" x2="2029.2" y2="323.2" stroke="#383838" stroke-width="1.35" />
<line x1="2029.2" y1="385.2" x2="2029.2" y2="409.3" stroke="#383838" stroke-width="1.35" />
<rect x="2002.9" y="323.2" width="52.5" height="62.1" fill="#0072B2" stroke="#333333" stroke-width="1.3"/>
<line x1="2002.9" y1="353.9" x2="2055.4" y2="353.9" stroke="#333333" stroke-width="2.3" />
<circle cx="2029.2" cy="71.5" r="2.9" fill="#333"/>
<circle cx="2029.2" cy="154.8" r="2.9" fill="#333"/>
<circle cx="2029.2" cy="215.8" r="2.9" fill="#333"/>
<circle cx="2029.2" cy="222.1" r="2.9" fill="#333"/>
</g>
<g id="table-e">
<line x1="1603.1" y1="509.6" x2="2043.0" y2="509.6" stroke="#1a1a1a" stroke-width="1.0" />
<line x1="1603.1" y1="592.2" x2="2043.0" y2="592.2" stroke="#1a1a1a" stroke-width="1.5" />
<line x1="1724.4" y1="619.7" x2="2043.0" y2="619.7" stroke="#1a1a1a" stroke-width="1.0" />
<line x1="1603.1" y1="646.2" x2="2043.0" y2="646.2" stroke="#1a1a1a" stroke-width="1.0" />
<line x1="1724.4" y1="509.1" x2="1724.4" y2="646.7" stroke="#1a1a1a" stroke-width="1.0" />
<line x1="1835.2" y1="509.1" x2="1835.2" y2="646.7" stroke="#1a1a1a" stroke-width="1.0" />
<line x1="1931.5" y1="509.1" x2="1931.5" y2="646.7" stroke="#1a1a1a" stroke-width="1.0" />
<line x1="2042.5" y1="509.1" x2="2042.5" y2="646.7" stroke="#1a1a1a" stroke-width="1.0" />
<text x="1764.24" y="529.80" font-size="22.9" textLength="34.90" lengthAdjust="spacingAndGlyphs">HC</text>
<text x="1770.20" y="557.97" font-size="22.9" textLength="22.37" lengthAdjust="spacingAndGlyphs">vs</text>
<text x="1724.95" y="585.91" font-size="22.9" textLength="108.28" lengthAdjust="spacingAndGlyphs">GBA-NMC</text>
<text x="1860.28" y="529.80" font-size="22.9" textLength="33.86" lengthAdjust="spacingAndGlyphs">HC</text>
<text x="1866.43" y="557.97" font-size="22.9" textLength="21.63" lengthAdjust="spacingAndGlyphs">vs</text>
<text x="1860.37" y="585.91" font-size="22.9" textLength="31.08" lengthAdjust="spacingAndGlyphs">PD</text>
<text x="1931.98" y="529.80" font-size="22.9" textLength="107.80" lengthAdjust="spacingAndGlyphs">GBA-NMC</text>
<text x="1977.22" y="557.97" font-size="22.9" textLength="23.12" lengthAdjust="spacingAndGlyphs">vs</text>
<text x="1972.13" y="585.91" font-size="22.9" textLength="30.82" lengthAdjust="spacingAndGlyphs">PD</text>
<clipPath id="clip-e"><rect x="1593.1" y="592.2" width="128.4" height="54.0"/></clipPath>
<text x="1602.53" y="612.59" font-size="22.0" textLength="119.73" lengthAdjust="spacingAndGlyphs" word-spacing="-0.66" clip-path="url(#clip-e)">PD enriched</text>
<text x="1602.50" y="640.05" font-size="22.0" textLength="122.18" lengthAdjust="spacingAndGlyphs" word-spacing="-0.66" clip-path="url(#clip-e)">PD depleted</text>
<text x="1736.49" y="612.59" font-size="22.0" textLength="89.23" lengthAdjust="spacingAndGlyphs" word-spacing="-1.10">2.4 × 10<tspan dy="-8.7" font-size="12.3">−3</tspan></text>
<text x="1835.59" y="612.59" font-size="22.0" textLength="91.11" lengthAdjust="spacingAndGlyphs" word-spacing="-1.10">1.6 × 10<tspan dy="-8.7" font-size="12.3">−13</tspan></text>
<text x="1940.48" y="612.59" font-size="22.0" textLength="88.91" lengthAdjust="spacingAndGlyphs" word-spacing="-1.10">9.6 × 10<tspan dy="-8.7" font-size="12.3">−3</tspan></text>
<text x="1736.74" y="640.05" font-size="22.0" textLength="90.26" lengthAdjust="spacingAndGlyphs" word-spacing="-1.10">3.0 × 10<tspan dy="-8.7" font-size="12.3">−2</tspan></text>
<text x="1835.75" y="640.05" font-size="22.0" textLength="93.29" lengthAdjust="spacingAndGlyphs" word-spacing="-1.10">8.2 × 10<tspan dy="-8.7" font-size="12.3">−10</tspan></text>
<text x="1940.52" y="640.05" font-size="22.0" textLength="87.51" lengthAdjust="spacingAndGlyphs" word-spacing="-1.10">4.2 × 10<tspan dy="-8.7" font-size="12.3">−2</tspan></text>
</g>
<g id="panel-f">
<text x="846.0" y="745.4" font-size="37" textLength="13.9" lengthAdjust="spacingAndGlyphs" font-weight="bold" stroke="#000" stroke-width="1.6" stroke-linejoin="round">f</text>
<path d="M937.50 752.58L937.50 1125.78L1437.20 1125.78" fill="none" stroke="#111" stroke-width="1.15" stroke-linejoin="round"/>
<line x1="928.60" y1="837.90" x2="937.50" y2="837.90" stroke="#111" stroke-width="1.15"/>
<text x="893.86" y="846.10" font-size="23.2" textLength="25.44" lengthAdjust="spacingAndGlyphs">10</text>
<line x1="928.60" y1="973.35" x2="937.50" y2="973.35" stroke="#111" stroke-width="1.15"/>
<text x="907.93" y="981.55" font-size="23.2" textLength="12.08" lengthAdjust="spacingAndGlyphs">5</text>
<line x1="928.60" y1="1108.80" x2="937.50" y2="1108.80" stroke="#111" stroke-width="1.15"/>
<text x="907.94" y="1117.00" font-size="23.2" textLength="15.12" lengthAdjust="spacingAndGlyphs">0</text>
<line x1="1031.10" y1="1125.78" x2="1031.10" y2="1134.98" stroke="#111" stroke-width="1.15"/>
<text x="1014.45" y="1165.08" font-size="23.2" textLength="34.36" lengthAdjust="spacingAndGlyphs">HC</text>
<line x1="1187.00" y1="1125.78" x2="1187.00" y2="1134.98" stroke="#111" stroke-width="1.15"/>
<text x="1132.44" y="1165.08" font-size="23.2" textLength="108.63" lengthAdjust="spacingAndGlyphs">GBA-NMC</text>
<line x1="1342.80" y1="1125.78" x2="1342.80" y2="1134.98" stroke="#111" stroke-width="1.15"/>
<text x="1327.89" y="1165.08" font-size="23.2" textLength="28.90" lengthAdjust="spacingAndGlyphs">PD</text>
<text x="870.00" y="1062.31" font-size="27.8" textLength="245.35" lengthAdjust="spacingAndGlyphs" transform="rotate(-90 870.00 1062.31)" word-spacing="-0.83">MSP proportion (%)</text>
<text x="960.09" y="742.20" font-size="27.8" textLength="369.07" lengthAdjust="spacingAndGlyphs" word-spacing="-0.83">Proportion of non-coherently</text>
<text x="960.87" y="774.60" font-size="27.8" textLength="193.17" lengthAdjust="spacingAndGlyphs" word-spacing="-0.83">altered species</text>
<line x1="1001.8" y1="985.5" x2="1001.8" y2="1024.9" stroke="#383838" stroke-width="1.35" />
<line x1="1001.8" y1="1057.0" x2="1001.8" y2="1090.8" stroke="#383838" stroke-width="1.35" />
<rect x="975.5" y="1024.9" width="52.5" height="32.1" fill="#D55E00" stroke="#333333" stroke-width="1.3"/>
<line x1="975.5" y1="1044.8" x2="1028.0" y2="1044.8" stroke="#333333" stroke-width="2.3" />
<circle cx="1001.8" cy="944.7" r="2.9" fill="#333"/>
<circle cx="1001.8" cy="947.5" r="2.9" fill="#333"/>
<circle cx="1001.8" cy="957.3" r="2.9" fill="#333"/>
<circle cx="1001.8" cy="959.7" r="2.9" fill="#333"/>
<circle cx="1001.8" cy="961.8" r="2.9" fill="#333"/>
<line x1="1060.1" y1="924.9" x2="1060.1" y2="965.0" stroke="#383838" stroke-width="1.35" />
<line x1="1060.1" y1="995.3" x2="1060.1" y2="1031.6" stroke="#383838" stroke-width="1.35" />
<rect x="1033.9" y="965.0" width="52.5" height="30.3" fill="#0072B2" stroke="#333333" stroke-width="1.3"/>
<line x1="1033.9" y1="981.0" x2="1086.4" y2="981.0" stroke="#333333" stroke-width="2.3" />
<circle cx="1060.1" cy="890.7" r="2.9" fill="#333"/>
<circle cx="1060.1" cy="899.1" r="2.9" fill="#333"/>
<circle cx="1060.1" cy="910.6" r="2.9" fill="#333"/>
<circle cx="1060.1" cy="913.4" r="2.9" fill="#333"/>
<circle cx="1060.1" cy="1052.1" r="2.9" fill="#333"/>
<circle cx="1060.1" cy="1053.9" r="2.9" fill="#333"/>
<circle cx="1060.1" cy="1067.8" r="2.9" fill="#333"/>
<circle cx="1060.1" cy="1088.7" r="2.9" fill="#333"/>
<line x1="1157.7" y1="1001.2" x2="1157.7" y2="1034.7" stroke="#383838" stroke-width="1.35" />
<line x1="1157.7" y1="1061.5" x2="1157.7" y2="1089.1" stroke="#383838" stroke-width="1.35" />
<rect x="1131.4" y="1034.7" width="52.5" height="26.8" fill="#D55E00" stroke="#333333" stroke-width="1.3"/>
<line x1="1131.4" y1="1047.2" x2="1183.9" y2="1047.2" stroke="#333333" stroke-width="2.3" />
<circle cx="1157.7" cy="1109.0" r="2.9" fill="#333"/>
<line x1="1216.0" y1="919.3" x2="1216.0" y2="957.6" stroke="#383838" stroke-width="1.35" />
<line x1="1216.0" y1="983.8" x2="1216.0" y2="1021.4" stroke="#383838" stroke-width="1.35" />
<rect x="1189.8" y="957.6" width="52.5" height="26.1" fill="#0072B2" stroke="#333333" stroke-width="1.3"/>
<line x1="1189.8" y1="968.8" x2="1242.3" y2="968.8" stroke="#333333" stroke-width="2.3" />
<circle cx="1216.0" cy="1028.1" r="2.9" fill="#333"/>
<circle cx="1216.0" cy="1049.0" r="2.9" fill="#333"/>
<line x1="1313.5" y1="915.5" x2="1313.5" y2="992.5" stroke="#383838" stroke-width="1.35" />
<line x1="1313.5" y1="1047.2" x2="1313.5" y2="1096.4" stroke="#383838" stroke-width="1.35" />
<rect x="1287.2" y="992.5" width="52.5" height="54.7" fill="#D55E00" stroke="#333333" stroke-width="1.3"/>
<line x1="1287.2" y1="1025.6" x2="1339.7" y2="1025.6" stroke="#333333" stroke-width="2.3" />
<circle cx="1313.5" cy="769.7" r="2.9" fill="#333"/>
<circle cx="1313.5" cy="829.3" r="2.9" fill="#333"/>
<circle cx="1313.5" cy="834.2" r="2.9" fill="#333"/>
<circle cx="1313.5" cy="858.6" r="2.9" fill="#333"/>
<circle cx="1313.5" cy="867.7" r="2.9" fill="#333"/>
<circle cx="1313.5" cy="869.8" r="2.9" fill="#333"/>
<circle cx="1313.5" cy="879.9" r="2.9" fill="#333"/>
<circle cx="1313.5" cy="886.9" r="2.9" fill="#333"/>
<circle cx="1313.5" cy="890.7" r="2.9" fill="#333"/>
<circle cx="1313.5" cy="892.8" r="2.9" fill="#333"/>
<circle cx="1313.5" cy="897.3" r="2.9" fill="#333"/>
<circle cx="1313.5" cy="900.5" r="2.9" fill="#333"/>
<circle cx="1313.5" cy="906.7" r="2.9" fill="#333"/>
<line x1="1371.8" y1="915.5" x2="1371.8" y2="976.5" stroke="#383838" stroke-width="1.35" />
<line x1="1371.8" y1="1016.6" x2="1371.8" y2="1074.8" stroke="#383838" stroke-width="1.35" />
<rect x="1345.6" y="976.5" width="52.5" height="40.1" fill="#0072B2" stroke="#333333" stroke-width="1.3"/>
<line x1="1345.6" y1="997.0" x2="1398.1" y2="997.0" stroke="#333333" stroke-width="2.3" />
<circle cx="1371.8" cy="884.8" r="2.9" fill="#333"/>
<circle cx="1371.8" cy="888.6" r="2.9" fill="#333"/>
<circle cx="1371.8" cy="909.2" r="2.9" fill="#333"/>
<circle cx="1371.8" cy="915.1" r="2.9" fill="#333"/>
<circle cx="1371.8" cy="1077.6" r="2.9" fill="#333"/>
<circle cx="1371.8" cy="1080.0" r="2.9" fill="#333"/>
<circle cx="1371.8" cy="1082.5" r="2.9" fill="#333"/>
<circle cx="1371.8" cy="1084.9" r="2.9" fill="#333"/>
<circle cx="1371.8" cy="1094.7" r="2.9" fill="#333"/>
<circle cx="1371.8" cy="1109.0" r="2.9" fill="#333"/>
</g>
<g id="table-f">
<line x1="946.0" y1="1206.0" x2="1390.1" y2="1206.0" stroke="#1a1a1a" stroke-width="1.0" />
<line x1="1067.5" y1="1206.0" x2="1390.1" y2="1206.0" stroke="#1a1a1a" stroke-width="1.5" />
<line x1="946.0" y1="1288.6" x2="1390.1" y2="1288.6" stroke="#1a1a1a" stroke-width="1.5" />
<line x1="1067.5" y1="1315.8" x2="1390.1" y2="1315.8" stroke="#1a1a1a" stroke-width="1.0" />
<line x1="946.0" y1="1342.3" x2="1390.1" y2="1342.3" stroke="#1a1a1a" stroke-width="1.0" />
<line x1="1067.5" y1="1205.5" x2="1067.5" y2="1342.8" stroke="#1a1a1a" stroke-width="1.0" />
<line x1="1182.4" y1="1205.5" x2="1182.4" y2="1342.8" stroke="#1a1a1a" stroke-width="1.0" />
<line x1="1278.6" y1="1205.5" x2="1278.6" y2="1342.8" stroke="#1a1a1a" stroke-width="1.0" />
<line x1="1389.6" y1="1205.5" x2="1389.6" y2="1342.8" stroke="#1a1a1a" stroke-width="1.0" />
<text x="1105.89" y="1226.22" font-size="22.9" textLength="35.16" lengthAdjust="spacingAndGlyphs">HC</text>
<text x="1112.59" y="1254.39" font-size="22.9" textLength="21.63" lengthAdjust="spacingAndGlyphs">vs</text>
<text x="1069.73" y="1282.33" font-size="22.9" textLength="108.28" lengthAdjust="spacingAndGlyphs">GBA-NMC</text>
<text x="1207.85" y="1226.22" font-size="22.9" textLength="35.16" lengthAdjust="spacingAndGlyphs">HC</text>
<text x="1214.07" y="1254.39" font-size="22.9" textLength="21.88" lengthAdjust="spacingAndGlyphs">vs</text>
<text x="1208.77" y="1282.33" font-size="22.9" textLength="30.29" lengthAdjust="spacingAndGlyphs">PD</text>
<text x="1280.32" y="1226.22" font-size="22.9" textLength="108.53" lengthAdjust="spacingAndGlyphs">GBA-NMC</text>
<text x="1323.43" y="1254.39" font-size="22.9" textLength="21.63" lengthAdjust="spacingAndGlyphs">vs</text>
<text x="1318.13" y="1282.33" font-size="22.9" textLength="30.29" lengthAdjust="spacingAndGlyphs">PD</text>
<text x="943.73" y="1308.77" font-size="22.0" textLength="119.48" lengthAdjust="spacingAndGlyphs" word-spacing="-0.66">PD enriched</text>
<text x="943.70" y="1335.75" font-size="22.0" textLength="121.44" lengthAdjust="spacingAndGlyphs" word-spacing="-0.66">PD depleted</text>
<text x="1084.24" y="1308.77" font-size="22.0" textLength="87.99" lengthAdjust="spacingAndGlyphs" word-spacing="-1.10">4.9 × 10<tspan dy="-8.7" font-size="12.3">−2</tspan></text>
<text x="1183.49" y="1308.77" font-size="22.0" textLength="93.67" lengthAdjust="spacingAndGlyphs" word-spacing="-1.10">2.3 × 10<tspan dy="-8.7" font-size="12.3">−10</tspan></text>
<text x="1290.97" y="1308.77" font-size="22.0" textLength="84.84" lengthAdjust="spacingAndGlyphs" word-spacing="-1.10">3.1 × 10<tspan dy="-8.7" font-size="12.3">−6</tspan></text>
<text x="1083.65" y="1335.75" font-size="22.0" textLength="88.59" lengthAdjust="spacingAndGlyphs" word-spacing="-1.10">6.4 × 10<tspan dy="-8.7" font-size="12.3">−2</tspan></text>
<text x="1183.45" y="1335.75" font-size="22.0" textLength="85.71" lengthAdjust="spacingAndGlyphs" word-spacing="-1.10">1.8 × 10<tspan dy="-8.7" font-size="12.3">−7</tspan></text>
<text x="1290.81" y="1335.75" font-size="22.0" textLength="89.81" lengthAdjust="spacingAndGlyphs" word-spacing="-1.10">8.6 × 10<tspan dy="-8.7" font-size="12.3">−6</tspan></text>
</g>
<g id="panel-g">
<text x="1500.5" y="742.0" font-size="37" textLength="25.5" lengthAdjust="spacingAndGlyphs" font-weight="bold" stroke="#000" stroke-width="1.6" stroke-linejoin="round">g</text>
<path d="M1594.90 752.58L1594.90 1125.78L2094.00 1125.78" fill="none" stroke="#111" stroke-width="1.15" stroke-linejoin="round"/>
<line x1="1586.00" y1="818.00" x2="1594.90" y2="818.00" stroke="#111" stroke-width="1.15"/>
<text x="1546.90" y="826.20" font-size="23.2" textLength="29.12" lengthAdjust="spacingAndGlyphs">30</text>
<line x1="1586.00" y1="915.00" x2="1594.90" y2="915.00" stroke="#111" stroke-width="1.15"/>
<text x="1545.87" y="923.20" font-size="23.2" textLength="29.47" lengthAdjust="spacingAndGlyphs">20</text>
<line x1="1586.00" y1="1011.90" x2="1594.90" y2="1011.90" stroke="#111" stroke-width="1.15"/>
<text x="1549.13" y="1020.10" font-size="23.2" textLength="24.32" lengthAdjust="spacingAndGlyphs">10</text>
<line x1="1586.00" y1="1108.80" x2="1594.90" y2="1108.80" stroke="#111" stroke-width="1.15"/>
<text x="1560.08" y="1117.00" font-size="23.2" textLength="14.54" lengthAdjust="spacingAndGlyphs">0</text>
<line x1="1688.20" y1="1125.78" x2="1688.20" y2="1134.98" stroke="#111" stroke-width="1.15"/>
<text x="1671.37" y="1165.08" font-size="23.2" textLength="33.92" lengthAdjust="spacingAndGlyphs">HC</text>
<line x1="1844.20" y1="1125.78" x2="1844.20" y2="1134.98" stroke="#111" stroke-width="1.15"/>
<text x="1787.34" y="1165.08" font-size="23.2" textLength="108.63" lengthAdjust="spacingAndGlyphs">GBA-NMC</text>
<line x1="2000.10" y1="1125.78" x2="2000.10" y2="1134.98" stroke="#111" stroke-width="1.15"/>
<text x="1983.82" y="1165.08" font-size="23.2" textLength="30.12" lengthAdjust="spacingAndGlyphs">PD</text>
<text x="1524.40" y="1065.85" font-size="27.8" textLength="251.25" lengthAdjust="spacingAndGlyphs" transform="rotate(-90 1524.40 1065.85)" word-spacing="-0.83">MSP abundance (%)</text>
<text x="1625.04" y="742.20" font-size="27.8" textLength="378.21" lengthAdjust="spacingAndGlyphs" word-spacing="-0.83">Abundance of non-coherently</text>
<text x="1623.87" y="774.60" font-size="27.8" textLength="193.37" lengthAdjust="spacingAndGlyphs" word-spacing="-0.83">altered species</text>
<line x1="1658.9" y1="1074.8" x2="1658.9" y2="1092.6" stroke="#383838" stroke-width="1.35" />
<line x1="1658.9" y1="1106.2" x2="1658.9" y2="1108.6" stroke="#383838" stroke-width="1.35" />
<rect x="1632.6" y="1092.6" width="52.5" height="13.6" fill="#D55E00" stroke="#333333" stroke-width="1.3"/>
<line x1="1632.6" y1="1101.6" x2="1685.1" y2="1101.6" stroke="#333333" stroke-width="2.3" />
<circle cx="1658.9" cy="988.0" r="2.9" fill="#333"/>
<circle cx="1658.9" cy="990.1" r="2.9" fill="#333"/>
<circle cx="1658.9" cy="1032.6" r="2.9" fill="#333"/>
<circle cx="1658.9" cy="1042.4" r="2.9" fill="#333"/>
<circle cx="1658.9" cy="1055.3" r="2.9" fill="#333"/>
<circle cx="1658.9" cy="1061.2" r="2.9" fill="#333"/>
<circle cx="1658.9" cy="1067.8" r="2.9" fill="#333"/>
<circle cx="1658.9" cy="1070.6" r="2.9" fill="#333"/>
<circle cx="1658.9" cy="1073.4" r="2.9" fill="#333"/>
<line x1="1717.2" y1="969.1" x2="1717.2" y2="1031.9" stroke="#383838" stroke-width="1.35" />
<line x1="1717.2" y1="1075.1" x2="1717.2" y2="1108.3" stroke="#383838" stroke-width="1.35" />
<rect x="1691.0" y="1031.9" width="52.5" height="43.2" fill="#0072B2" stroke="#333333" stroke-width="1.3"/>
<line x1="1691.0" y1="1057.0" x2="1743.5" y2="1057.0" stroke="#333333" stroke-width="2.3" />
<circle cx="1717.2" cy="870.8" r="2.9" fill="#333"/>
<circle cx="1717.2" cy="883.0" r="2.9" fill="#333"/>
<circle cx="1717.2" cy="884.8" r="2.9" fill="#333"/>
<circle cx="1717.2" cy="939.9" r="2.9" fill="#333"/>
<circle cx="1717.2" cy="959.7" r="2.9" fill="#333"/>
<circle cx="1717.2" cy="962.5" r="2.9" fill="#333"/>
<circle cx="1717.2" cy="966.0" r="2.9" fill="#333"/>
<line x1="1814.9" y1="1081.1" x2="1814.9" y2="1094.0" stroke="#383838" stroke-width="1.35" />
<line x1="1814.9" y1="1105.5" x2="1814.9" y2="1108.3" stroke="#383838" stroke-width="1.35" />
<rect x="1788.6" y="1094.0" width="52.5" height="11.5" fill="#D55E00" stroke="#333333" stroke-width="1.3"/>
<line x1="1788.6" y1="1102.0" x2="1841.1" y2="1102.0" stroke="#333333" stroke-width="2.3" />
<circle cx="1814.9" cy="974.0" r="2.9" fill="#333"/>
<circle cx="1814.9" cy="1056.7" r="2.9" fill="#333"/>
<circle cx="1814.9" cy="1065.0" r="2.9" fill="#333"/>
<circle cx="1814.9" cy="1076.5" r="2.9" fill="#333"/>
<line x1="1873.2" y1="945.1" x2="1873.2" y2="991.8" stroke="#383838" stroke-width="1.35" />
<line x1="1873.2" y1="1071.3" x2="1873.2" y2="1107.6" stroke="#383838" stroke-width="1.35" />
<rect x="1847.0" y="991.8" width="52.5" height="79.5" fill="#0072B2" stroke="#333333" stroke-width="1.3"/>
<line x1="1847.0" y1="1039.2" x2="1899.5" y2="1039.2" stroke="#333333" stroke-width="2.3" />
<line x1="1970.8" y1="1031.2" x2="1970.8" y2="1072.0" stroke="#383838" stroke-width="1.35" />
<line x1="1970.8" y1="1100.6" x2="1970.8" y2="1108.6" stroke="#383838" stroke-width="1.35" />
<rect x="1944.5" y="1072.0" width="52.5" height="28.6" fill="#D55E00" stroke="#333333" stroke-width="1.3"/>
<line x1="1944.5" y1="1090.1" x2="1997.0" y2="1090.1" stroke="#333333" stroke-width="2.3" />
<circle cx="1970.8" cy="769.7" r="2.9" fill="#333"/>
<circle cx="1970.8" cy="847.1" r="2.9" fill="#333"/>
<circle cx="1970.8" cy="905.7" r="2.9" fill="#333"/>
<circle cx="1970.8" cy="920.0" r="2.9" fill="#333"/>
<circle cx="1970.8" cy="929.8" r="2.9" fill="#333"/>
<circle cx="1970.8" cy="960.8" r="2.9" fill="#333"/>
<circle cx="1970.8" cy="972.6" r="2.9" fill="#333"/>
<circle cx="1970.8" cy="997.4" r="2.9" fill="#333"/>
<circle cx="1970.8" cy="998.8" r="2.9" fill="#333"/>
<circle cx="1970.8" cy="1005.8" r="2.9" fill="#333"/>
<circle cx="1970.8" cy="1010.3" r="2.9" fill="#333"/>
<circle cx="1970.8" cy="1015.5" r="2.9" fill="#333"/>
<circle cx="1970.8" cy="1019.0" r="2.9" fill="#333"/>
<circle cx="1970.8" cy="1021.4" r="2.9" fill="#333"/>
<circle cx="1970.8" cy="1024.2" r="2.9" fill="#333"/>
<circle cx="1970.8" cy="1027.0" r="2.9" fill="#333"/>
<circle cx="1970.8" cy="1028.8" r="2.9" fill="#333"/>
<line x1="2029.2" y1="945.1" x2="2029.2" y2="1034.3" stroke="#383838" stroke-width="1.35" />
<line x1="2029.2" y1="1094.7" x2="2029.2" y2="1108.6" stroke="#383838" stroke-width="1.35" />
<rect x="2002.9" y="1034.3" width="52.5" height="60.3" fill="#0072B2" stroke="#333333" stroke-width="1.3"/>
<line x1="2002.9" y1="1069.9" x2="2055.4" y2="1069.9" stroke="#333333" stroke-width="2.3" />
<circle cx="2029.2" cy="918.2" r="2.9" fill="#333"/>
<circle cx="2029.2" cy="919.6" r="2.9" fill="#333"/>
<circle cx="2029.2" cy="930.8" r="2.9" fill="#333"/>
<circle cx="2029.2" cy="932.9" r="2.9" fill="#333"/>
<circle cx="2029.2" cy="935.7" r="2.9" fill="#333"/>
<circle cx="2029.2" cy="942.0" r="2.9" fill="#333"/>
</g>
<g id="table-g">
<line x1="1603.1" y1="1206.0" x2="2038.9" y2="1206.0" stroke="#1a1a1a" stroke-width="1.0" />
<line x1="1724.4" y1="1206.0" x2="2038.9" y2="1206.0" stroke="#1a1a1a" stroke-width="1.5" />
<line x1="1603.1" y1="1288.6" x2="2038.9" y2="1288.6" stroke="#1a1a1a" stroke-width="1.5" />
<line x1="1724.4" y1="1315.8" x2="2038.9" y2="1315.8" stroke="#1a1a1a" stroke-width="1.0" />
<line x1="1603.1" y1="1342.3" x2="2038.9" y2="1342.3" stroke="#1a1a1a" stroke-width="1.0" />
<line x1="1724.4" y1="1205.5" x2="1724.4" y2="1342.8" stroke="#1a1a1a" stroke-width="1.0" />
<line x1="1835.2" y1="1205.5" x2="1835.2" y2="1342.8" stroke="#1a1a1a" stroke-width="1.0" />
<line x1="1927.4" y1="1205.5" x2="1927.4" y2="1342.8" stroke="#1a1a1a" stroke-width="1.0" />
<line x1="2038.4" y1="1205.5" x2="2038.4" y2="1342.8" stroke="#1a1a1a" stroke-width="1.0" />
<text x="1759.92" y="1227.89" font-size="22.9" textLength="35.16" lengthAdjust="spacingAndGlyphs">HC</text>
<text x="1766.14" y="1255.35" font-size="22.9" textLength="22.37" lengthAdjust="spacingAndGlyphs">vs</text>
<text x="1725.42" y="1283.05" font-size="22.9" textLength="108.53" lengthAdjust="spacingAndGlyphs">GBA-NMC</text>
<text x="1857.87" y="1227.89" font-size="22.9" textLength="34.38" lengthAdjust="spacingAndGlyphs">HC</text>
<text x="1863.32" y="1255.35" font-size="22.9" textLength="23.12" lengthAdjust="spacingAndGlyphs">vs</text>
<text x="1857.95" y="1283.05" font-size="22.9" textLength="31.61" lengthAdjust="spacingAndGlyphs">PD</text>
<text x="1928.39" y="1227.89" font-size="22.9" textLength="108.53" lengthAdjust="spacingAndGlyphs">GBA-NMC</text>
<text x="1971.25" y="1255.35" font-size="22.9" textLength="22.37" lengthAdjust="spacingAndGlyphs">vs</text>
<text x="1966.21" y="1283.05" font-size="22.9" textLength="30.03" lengthAdjust="spacingAndGlyphs">PD</text>
<text x="1602.54" y="1310.68" font-size="22.0" textLength="118.99" lengthAdjust="spacingAndGlyphs" word-spacing="-0.66">PD enriched</text>
<text x="1600.60" y="1337.66" font-size="22.0" textLength="120.95" lengthAdjust="spacingAndGlyphs" word-spacing="-0.66">PD depleted</text>
<text x="1743.94" y="1310.68" font-size="22.0" textLength="86.11" lengthAdjust="spacingAndGlyphs" word-spacing="-1.10">3.3 × 10<tspan dy="-8.7" font-size="12.3">−1</tspan></text>
<text x="1838.56" y="1310.68" font-size="22.0" textLength="88.63" lengthAdjust="spacingAndGlyphs" word-spacing="-1.10">4.9 × 10<tspan dy="-8.7" font-size="12.3">−8</tspan></text>
<text x="1946.65" y="1310.68" font-size="22.0" textLength="88.00" lengthAdjust="spacingAndGlyphs" word-spacing="-1.10">3.2 × 10<tspan dy="-8.7" font-size="12.3">−3</tspan></text>
<text x="1743.68" y="1337.66" font-size="22.0" textLength="86.87" lengthAdjust="spacingAndGlyphs" word-spacing="-1.10">2.4 × 10<tspan dy="-8.7" font-size="12.3">−2</tspan></text>
<text x="1837.84" y="1337.66" font-size="22.0" textLength="89.36" lengthAdjust="spacingAndGlyphs" word-spacing="-1.10">4.0 × 10<tspan dy="-8.7" font-size="12.3">−3</tspan></text>
<text x="1944.74" y="1337.66" font-size="22.0" textLength="83.02" lengthAdjust="spacingAndGlyphs" word-spacing="-1.10">1.1 × 10<tspan dy="-8.7" font-size="12.3">−4</tspan></text>
</g>
</svg>
</body></html>
